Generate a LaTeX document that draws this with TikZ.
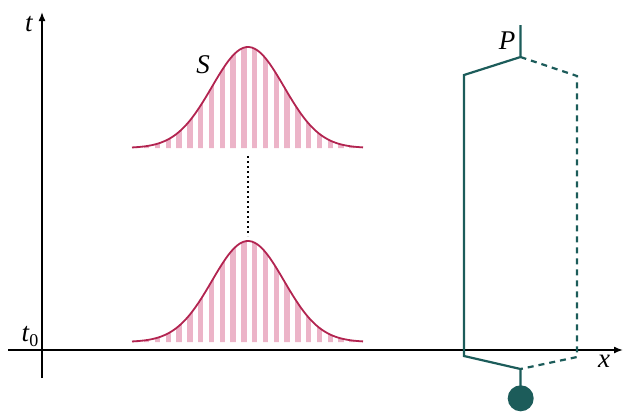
\documentclass[tikz,border=0pt]{standalone}
\usepackage{fontspec}
\setmainfont{Liberation Serif}
\usetikzlibrary{arrows.meta}
\definecolor{teal1}{RGB}{28,92,90}
\definecolor{crim}{RGB}{178,36,80}
\definecolor{pinkst}{RGB}{236,180,200}
\tikzset{
  axis/.style={line width=1.5pt,-{Latex[length=9pt,width=7pt]}},
  curve/.style={crim,line width=1.8pt},
  world/.style={teal1,line width=2.2pt,line join=miter},
  worlddash/.style={teal1,line width=2.2pt,dash pattern=on 6pt off 5pt},
  lbl/.style={font=\fontsize{27}{31}\selectfont\itshape,inner sep=0pt},
}
\begin{document}
\begin{tikzpicture}[x=1pt,y=-1pt]
\useasboundingbox (0,0) rectangle (623,413);
% axes
\coordinate (xs) at (8,350);
\coordinate (xe) at (623,350);
\coordinate (ys) at (42,378);
\coordinate (ye) at (42,12);
\draw[axis] (xs) -- (xe);
\draw[axis] (ys) -- (ye);
\node[lbl] (tl) at (29,24) {t};
\node[lbl,anchor=base] (t0) at (30,341) {t\raisebox{-0.22em}{\upshape\fontsize{18}{18}\selectfont 0}};
\node[lbl] (xl) at (604,361) {x};
% gaussians
\foreach \base/\nm in {148/up,342/lo}{
  \begin{scope}[shift={(248,\base)}]
    \begin{scope}
      \clip (-116,0) -- plot[domain=-116:115,samples=80,smooth] (\x,{-101*exp(-(\x)*(\x)/2592)}) -- (115,0) -- cycle;
      \foreach \k in {-11,...,11}{
        \fill[pinkst] ({\k*10.8-6.8},1) rectangle ({\k*10.8-1.4},-110);
      }
    \end{scope}
    \draw[curve] plot[domain=-116:115,samples=80,smooth] (\x,{-101*exp(-(\x)*(\x)/2592)});
  \end{scope}
}
\node[lbl] (S) at (203,65) {S};
\coordinate (d1) at (248,156);
\coordinate (d2) at (248,236);
\draw[line width=1.6pt,dash pattern=on 1.6pt off 3.4pt] (d1) -- (d2);
% world tube
\coordinate (p0) at (520.5,25);
\coordinate (p1) at (520.5,57);
\coordinate (p2) at (464,75);
\coordinate (p3) at (464,356);
\coordinate (p4) at (520.5,369);
\coordinate (p5) at (520.5,386);
\coordinate (q2) at (577,76);
\coordinate (q3) at (577,357);
\draw[world] (p0) -- (p1) -- (p2) -- (p3) -- (p4) -- (p5);
\draw[worlddash] (p1) -- (q2) -- (q3) -- (p4);
\node[circle,fill=teal1,minimum size=26pt,inner sep=0pt] (ball) at (520.7,398.3) {};
\node[lbl] (P) at (507,41) {P};
\end{tikzpicture}
\end{document}
